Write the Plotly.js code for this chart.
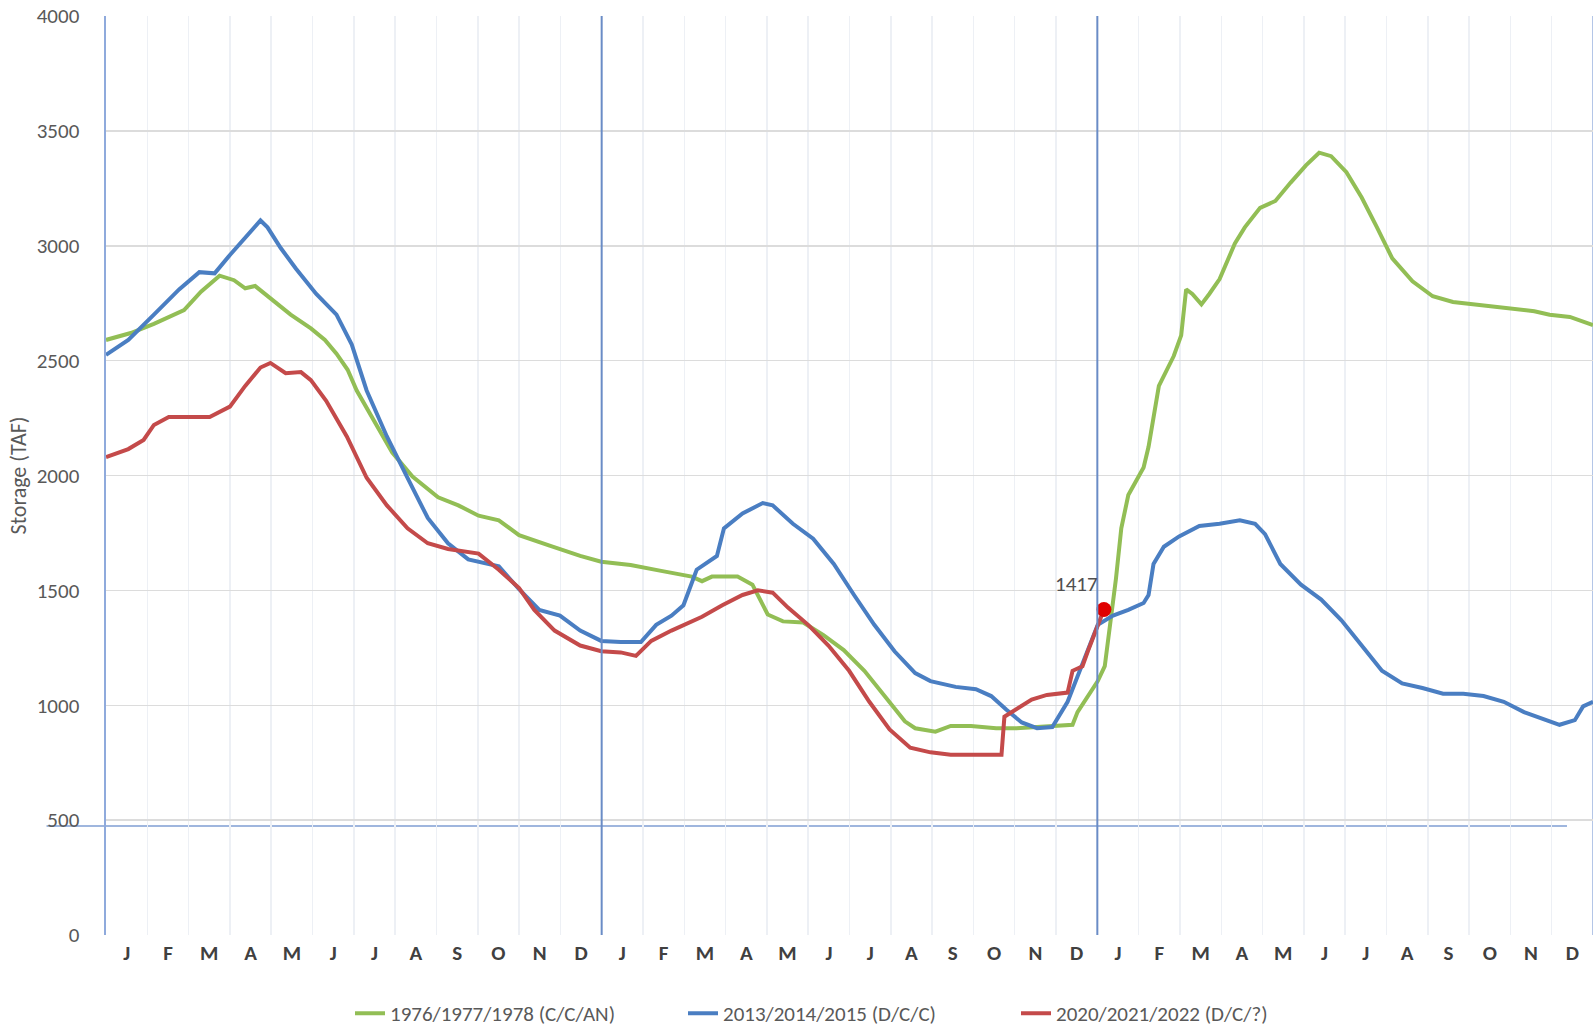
<!DOCTYPE html>
<html>
<head>
<meta charset="utf-8">
<script src="https://cdn.plot.ly/plotly-3.0.1.min.js"></script>
<style>html,body{margin:0;padding:0;background:#fff;}#chart{width:1595px;height:1028px;}</style>
</head>
<body>
<div id="chart"></div>
<script>
// x positions are in months from the start of the first year (0..36)
const monthLabels = ['J','F','M','A','M','J','J','A','S','O','N','D',
                     'J','F','M','A','M','J','J','A','S','O','N','D',
                     'J','F','M','A','M','J','J','A','S','O','N','D'];
const monthCenters = [0.5,1.5,2.5,3.5,4.5,5.5,6.5,7.5,8.5,9.5,10.5,11.5,
                      12.5,13.5,14.5,15.5,16.5,17.5,18.5,19.5,20.5,21.5,22.5,23.5,
                      24.5,25.5,26.5,27.5,28.5,29.5,30.5,31.5,32.5,33.5,34.5,35.5];
const monthBounds = [1,2,3,4,5,6,7,8,9,10,11,12,13,14,15,16,17,18,19,20,21,22,23,24,25,26,27,28,29,30,31,32,33,34,35];
const yearBounds = [12, 24];
const yTicks = [0,500,1000,1500,2000,2500,3000,3500,4000];

const seriesNames = ['1976/1977/1978 (C/C/AN)', '2013/2014/2015 (D/C/C)', '2020/2021/2022 (D/C/?)'];

const greenX = [0,0.6,1.16,1.5,1.89,2.3,2.75,3.1,3.37,3.61,3.98,4.47,4.96,5.3,5.58,5.85,6.07,6.56,6.93,7.42,8.04,8.53,9.02,9.51,10.0,10.74,11.48,11.99,12.7,13.44,14.18,14.43,14.67,15.29,15.65,16.02,16.39,16.88,17.37,17.86,18.36,18.85,19.34,19.59,20.08,20.45,20.94,21.55,22.04,22.54,23.03,23.4,23.52,23.77,24.01,24.18,24.33,24.45,24.58,24.75,25.12,25.24,25.49,25.85,26.03,26.15,26.3,26.52,26.71,26.96,27.33,27.57,27.94,28.31,28.68,29.05,29.37,29.66,30.03,30.4,30.77,31.14,31.63,32.12,32.61,33.1,33.6,34.09,34.58,34.95,35.44,36];
const greenY = [2590,2620,2660,2690,2720,2800,2870,2850,2815,2825,2770,2700,2640,2590,2530,2460,2370,2215,2100,1995,1905,1870,1825,1805,1740,1695,1650,1625,1610,1585,1560,1540,1560,1560,1525,1395,1365,1360,1305,1240,1150,1040,930,900,885,910,910,900,900,905,910,915,970,1040,1105,1170,1370,1550,1770,1915,2035,2125,2390,2520,2610,2810,2790,2745,2790,2855,3010,3080,3165,3195,3275,3350,3405,3390,3320,3210,3080,2945,2845,2780,2755,2745,2735,2725,2715,2700,2690,2655];

const blueX = [0,0.54,1.16,1.77,2.26,2.63,3.0,3.37,3.74,3.91,4.23,4.6,5.09,5.58,5.95,6.31,6.8,7.3,7.79,8.28,8.77,9.51,10.0,10.49,10.99,11.48,11.99,12.46,12.95,13.32,13.69,13.98,14.3,14.79,14.96,15.41,15.9,16.14,16.63,17.12,17.62,18.11,18.6,19.09,19.59,19.96,20.57,21.06,21.43,21.8,22.17,22.54,22.91,23.28,23.52,23.77,24.01,24.38,24.75,25.12,25.24,25.36,25.61,25.98,26.47,26.96,27.45,27.82,28.06,28.43,28.93,29.42,29.91,30.4,30.89,31.38,31.87,32.37,32.86,33.35,33.84,34.33,34.82,35.19,35.56,35.76,36];
const blueY = [2525,2590,2700,2810,2885,2880,2960,3035,3110,3080,2990,2900,2790,2700,2570,2370,2170,1990,1815,1705,1635,1605,1505,1415,1390,1325,1280,1275,1275,1350,1390,1435,1590,1650,1770,1835,1880,1870,1790,1725,1615,1480,1350,1235,1140,1105,1080,1070,1040,980,925,900,905,1015,1125,1235,1350,1390,1415,1445,1480,1615,1690,1735,1780,1790,1805,1790,1745,1615,1525,1460,1370,1260,1150,1095,1075,1050,1050,1040,1015,970,940,915,935,995,1015];

const redX = [0,0.54,0.91,1.16,1.52,2.01,2.51,3.0,3.37,3.74,3.98,4.35,4.72,4.96,5.33,5.83,6.31,6.8,7.3,7.79,8.28,9.02,9.51,10.0,10.37,10.86,11.48,11.99,12.46,12.83,13.2,13.69,14.43,14.92,15.41,15.78,16.14,16.51,17.0,17.49,17.99,18.48,18.97,19.47,19.96,20.45,21.06,21.68,21.75,22.17,22.41,22.78,23.28,23.4,23.64,23.77,23.96,24.16];
const redY = [2080,2115,2155,2220,2255,2255,2255,2300,2390,2470,2490,2445,2450,2415,2325,2170,1990,1870,1770,1705,1680,1660,1590,1510,1415,1325,1260,1235,1230,1215,1280,1325,1385,1435,1480,1500,1490,1425,1350,1260,1150,1015,895,815,795,785,785,785,950,995,1025,1045,1055,1150,1170,1235,1325,1417];

const lastPoint = {x: 24.16, y: 1417, label: '1417'};
const deadPoolLine = 474;

const FONT = 'Carlito, Lato, "Open Sans", sans-serif';

const traces = [
  {x: greenX, y: greenY, name: seriesNames[0], mode: 'lines', line: {color: '#92BE55', width: 4}},
  {x: blueX, y: blueY, name: seriesNames[1], mode: 'lines', line: {color: '#4A7EC2', width: 4}},
  {x: redX, y: redY, name: seriesNames[2], mode: 'lines', line: {color: '#C44A4A', width: 4}},
  {x: [lastPoint.x], y: [lastPoint.y], mode: 'markers', showlegend: false,
   marker: {color: '#E00000', size: 15}}
];

const shapes = [];
yearBounds.forEach(v => shapes.push({type: 'line', xref: 'x', yref: 'paper', x0: v, x1: v, y0: 0, y1: 1,
  line: {color: '#6A8CC6', width: 2}, layer: 'above'}));
shapes.push({type: 'line', xref: 'x', yref: 'paper', x0: 36, x1: 36, y0: 0, y1: 1,
  line: {color: '#B4C6E7', width: 2}, layer: 'below'});
shapes.push({type: 'line', xref: 'paper', yref: 'y', x0: -0.04, x1: 0.9825, y0: deadPoolLine, y1: deadPoolLine,
  line: {color: '#9FB6DE', width: 2}, layer: 'below'});

const layout = {
  width: 1595, height: 1028,
  margin: {l: 106, r: 2, t: 16, b: 93, autoexpand: false},
  paper_bgcolor: '#ffffff', plot_bgcolor: '#ffffff',
  font: {family: FONT, color: '#595959'},
  showlegend: true,
  legend: {orientation: 'h', xref: 'paper', x: 0.5, xanchor: 'center',
           yref: 'container', y: 0.014, yanchor: 'middle',
           font: {size: 21, color: '#595959', family: FONT}, entrywidth: 288, entrywidthmode: 'pixels',
           traceorder: 'normal'},
  xaxis: {
    range: [0, 36], tickmode: 'array', tickvals: monthCenters, ticktext: monthLabels,
    showgrid: false, zeroline: false, showline: false, ticks: '',
    ticklabelstandoff: 3, automargin: false,
    tickfont: {size: 21, color: '#404040', family: FONT, weight: 'bold'},
    minor: {tickmode: 'array', tickvals: monthBounds, showgrid: true, gridcolor: '#EDF0F5', gridwidth: 1.5, ticks: ''},
    fixedrange: true
  },
  yaxis: {
    range: [0, 4000], tickmode: 'array', tickvals: yTicks,
    showgrid: true, gridcolor: '#DCDCDC', gridwidth: 1.5, zeroline: false,
    showline: true, linecolor: '#8FAADC', linewidth: 2.5,
    ticks: '', ticklabelstandoff: 20, automargin: false,
    tickfont: {size: 21, color: '#595959', family: FONT},
    title: {text: 'Storage (TAF)', font: {size: 22, color: '#595959', family: FONT}, standoff: 4},
    fixedrange: true
  },
  shapes: shapes,
  annotations: [{x: lastPoint.x, y: lastPoint.y, xref: 'x', yref: 'y', text: lastPoint.label,
    showarrow: false, xanchor: 'right', yanchor: 'bottom', xshift: -4, yshift: 10,
    font: {size: 21, color: '#505050', family: FONT}}]
};

Plotly.newPlot('chart', traces, layout, {displayModeBar: false, staticPlot: true});
</script>
</body>
</html>
